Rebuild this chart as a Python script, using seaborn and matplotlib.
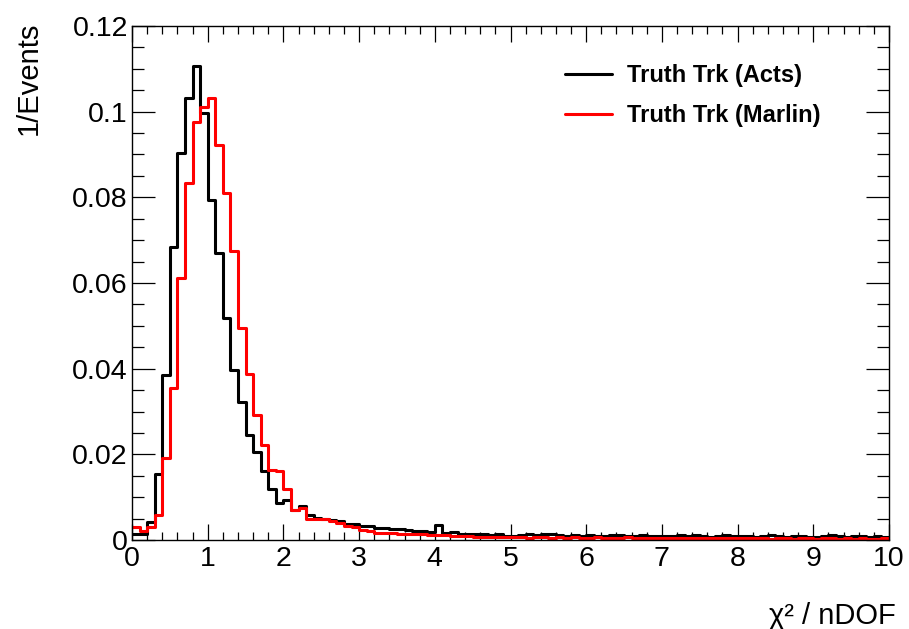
import numpy as np
import pandas as pd
import matplotlib
matplotlib.use("Agg")
import matplotlib.pyplot as plt
from matplotlib.ticker import MultipleLocator
import seaborn as sns

# ---- data (bin width 0.1 over 0..10) ----
bin_edges = [round(0.1 * i, 2) for i in range(101)]

acts = [
    0.0013, 0.0013, 0.0041, 0.0155, 0.0385, 0.0685, 0.0903, 0.1031, 0.1106, 0.0998,
    0.0793, 0.0670, 0.0518, 0.0398, 0.0322, 0.0245, 0.0205, 0.0162, 0.0120, 0.0087,
    0.0093, 0.0070, 0.0079, 0.0058, 0.0052, 0.0048, 0.0047, 0.0045, 0.0038, 0.0037,
    0.0033, 0.0032, 0.0028, 0.0027, 0.0025, 0.0025, 0.0023, 0.0022, 0.0020, 0.0019,
    0.0035, 0.0016, 0.0018, 0.0015, 0.0013, 0.0014, 0.0013, 0.0012, 0.0013, 0.0010,
    0.0009, 0.0012, 0.0014, 0.0012, 0.0013, 0.0015, 0.0011, 0.0010, 0.0012, 0.0010,
    0.0011, 0.0009, 0.0010, 0.0011, 0.0012, 0.0010, 0.0009, 0.0011, 0.0010, 0.0009,
    0.0010, 0.0009, 0.0011, 0.0010, 0.0012, 0.0009, 0.0008, 0.0010, 0.0011, 0.0009,
    0.0009, 0.0010, 0.0008, 0.0010, 0.0012, 0.0009, 0.0008, 0.0009, 0.0010, 0.0008,
    0.0008, 0.0010, 0.0011, 0.0009, 0.0008, 0.0009, 0.0010, 0.0008, 0.0009, 0.0007,
]

marlin = [
    0.0030, 0.0022, 0.0030, 0.0058, 0.0192, 0.0354, 0.0611, 0.0833, 0.0975, 0.1012,
    0.1033, 0.0922, 0.0810, 0.0674, 0.0496, 0.0388, 0.0291, 0.0221, 0.0163, 0.0160,
    0.0119, 0.0070, 0.0074, 0.0048, 0.0048, 0.0050, 0.0045, 0.0040, 0.0032, 0.0030,
    0.0023, 0.0021, 0.0017, 0.0016, 0.0016, 0.0015, 0.0014, 0.0013, 0.0015, 0.0012,
    0.0012, 0.0011, 0.0010, 0.0009, 0.0010, 0.0008, 0.0008, 0.0007, 0.0007, 0.0006,
    0.0006, 0.0007, 0.0005, 0.0006, 0.0007, 0.0005, 0.0006, 0.0005, 0.0006, 0.0005,
    0.0005, 0.0006, 0.0005, 0.0004, 0.0005, 0.0006, 0.0005, 0.0004, 0.0005, 0.0005,
    0.0004, 0.0005, 0.0004, 0.0005, 0.0004, 0.0005, 0.0004, 0.0004, 0.0005, 0.0004,
    0.0004, 0.0005, 0.0004, 0.0004, 0.0003, 0.0004, 0.0004, 0.0003, 0.0004, 0.0004,
    0.0003, 0.0004, 0.0004, 0.0003, 0.0004, 0.0003, 0.0004, 0.0003, 0.0003, 0.0004,
]

labels = ["Truth Trk (Acts)", "Truth Trk (Marlin)"]
colors = ["black", "#ff0000"]
yticks = [0, 0.02, 0.04, 0.06, 0.08, 0.1, 0.12]
ytick_labels = ["0", "0.02", "0.04", "0.06", "0.08", "0.1", "0.12"]
xticks = list(range(0, 11))

centers = [round((bin_edges[i] + bin_edges[i + 1]) / 2, 3) for i in range(len(bin_edges) - 1)]
df = pd.DataFrame({
    "x": centers + centers,
    "w": acts + marlin,
    "sample": [labels[0]] * len(acts) + [labels[1]] * len(marlin),
})

sns.set_style("ticks")
plt.rcParams["font.family"] = ["Liberation Sans", "DejaVu Sans"]
plt.rcParams["text.color"] = "black"
plt.rcParams["axes.labelcolor"] = "black"

fig = plt.figure(figsize=(9.09, 6.29), dpi=100)
W, H = 909, 629
x0, x1, y0, y1 = 132, 889, 26, 540
ax = fig.add_axes([x0 / W, 1 - y1 / H, (x1 - x0) / W, (y1 - y0) / H])

for lab, col in zip(labels, colors):
    sub = df[df["sample"] == lab].reset_index(drop=True)
    sns.histplot(data=sub, x="x", weights="w", bins=bin_edges, element="step",
                 fill=False, color=col, linewidth=2.2, ax=ax, label=lab)

ax.set_xlim(0, 10)
ax.set_ylim(0, 0.12)
ax.xaxis.set_minor_locator(MultipleLocator(0.2))
ax.yaxis.set_minor_locator(MultipleLocator(0.005))
ax.set_yticks(yticks)
ax.set_yticklabels(ytick_labels)
ax.set_xticks(xticks)
ax.set_xticklabels([str(i) for i in xticks])

for s in ax.spines.values():
    s.set_linewidth(1.0)
    s.set_color("black")

ax.tick_params(axis="both", which="both", direction="in", top=True, right=True,
               colors="black", width=0.9, labelsize=20.5)
ax.tick_params(axis="y", which="major", length=16.5, pad=3)
ax.tick_params(axis="y", which="minor", length=8.5)
ax.tick_params(axis="x", which="major", length=11.5, pad=4)
ax.tick_params(axis="x", which="minor", length=5.8)

ax.set_xlabel("χ² / nDOF", fontsize=21, color="black")
ax.xaxis.set_label_coords((896 - x0) / (x1 - x0), (y1 - 602) / (y1 - y0))
ax.xaxis.label.set_horizontalalignment("right")
ax.set_ylabel("1/Events", fontsize=21, color="black")
ax.yaxis.set_label_coords((43 - x0) / (x1 - x0), (y1 - 22) / (y1 - y0))
ax.yaxis.label.set_horizontalalignment("right")

leg = ax.legend(loc="upper left", bbox_to_anchor=((565 - x0) / (x1 - x0), (y1 - 64) / (y1 - y0)),
                frameon=False, borderpad=0, borderaxespad=0, handlelength=2.0,
                handletextpad=0.64, labelspacing=0.72,
                prop={"family": ["Liberation Sans"], "weight": "bold", "size": 17})
for line in leg.get_lines():
    line.set_linewidth(2.2)
for t in leg.get_texts():
    t.set_color("black")

fig.savefig("out.png", dpi=100)
